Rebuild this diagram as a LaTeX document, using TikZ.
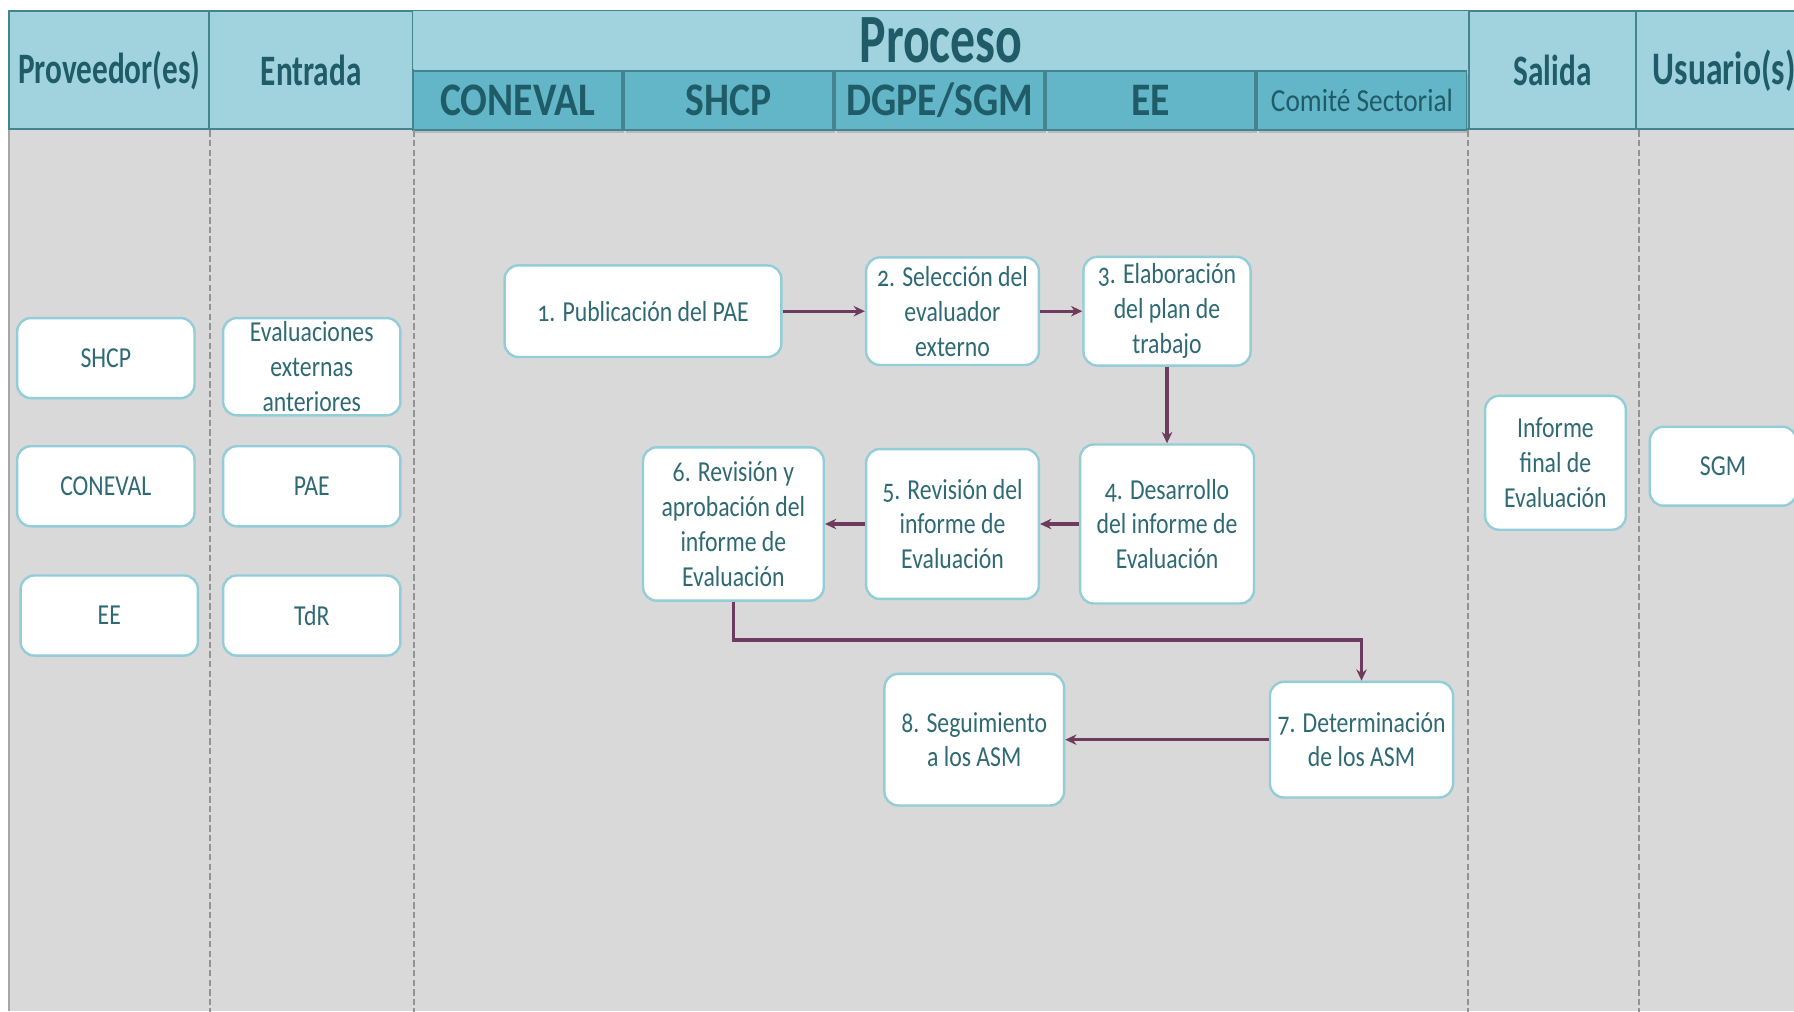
\documentclass[tikz,border=0pt]{standalone}
\usepackage{fontspec}
\setmainfont{Carlito}
\newfontfamily\boxfont[FakeStretch=0.82,Numbers=OldStyle]{Carlito}
\newfontfamily\headfont[FakeStretch=0.72]{Carlito}
\newfontfamily\subfont[FakeStretch=0.85]{Carlito}
\usepackage{xcolor}
\usetikzlibrary{arrows.meta, positioning, shadows}

\definecolor{hdrlight}{HTML}{A0D3DE}
\definecolor{hdrdark}{HTML}{62B6C8}
\definecolor{hdrline}{HTML}{44848F}
\definecolor{hdrtext}{HTML}{1F5C67}
\definecolor{lanegray}{HTML}{D9D9D9}
\definecolor{boxline}{HTML}{92CDD8}
\definecolor{boxtext}{HTML}{2F6A74}
\definecolor{flow}{HTML}{6E3B5E}

\begin{document}
\begin{tikzpicture}[
  hcell/.style={draw=hdrline, line width=1.2pt, fill=hdrlight, text=hdrtext,
                inner sep=0pt, font=\headfont\bfseries\fontsize{27}{30}\selectfont},
  subcell/.style={draw=hdrline, line width=1.2pt, fill=hdrdark, text=hdrtext,
                  minimum width=4.57cm, minimum height=1.3cm, inner sep=0pt,
                  drop shadow={shadow xshift=0.04cm, shadow yshift=-0.07cm, opacity=0.35},
                  font=\subfont\bfseries\fontsize{29}{32}\selectfont},
  actbox/.style={draw=boxline, line width=1.5pt, fill=white, rounded corners=0.3cm,
                 align=center, text=boxtext, inner sep=1pt,
                 font=\boxfont\fontsize{18}{21.7}\selectfont},
  arr/.style={-{Stealth[length=7pt,width=6.5pt]}, line width=2.1pt, draw=flow},
  lane/.style={dash pattern=on 4pt off 2pt, line width=1.3pt, draw=gray!85}
]
\useasboundingbox (0,0) rectangle (39.2,22.1);
\clip (0,0) rectangle (39.2,22.1);
\fill[white] (0,0) rectangle (39.2,22.1);
\fill[lanegray] (0.2,0) rectangle (39.6,19.3);
\draw[gray!70, line width=1pt] (0.2,0) -- (0.2,19.3);

%% Header row
\node[hcell, minimum width=4.375cm, minimum height=2.575cm] (hprov) at (2.3875,20.5625) {Proveedor(es)};
\node[hcell, minimum width=4.45cm,  minimum height=2.575cm] (hent)  at (6.8,20.5625) {Entrada};
\node[hcell, minimum width=23.075cm, minimum height=2.575cm] (hprocbg) at (20.5625,20.5625) {};
\node[hcell, minimum width=23.075cm, minimum height=1.25cm, draw=none,
      font=\headfont\bfseries\fontsize{43}{46}\selectfont] (hproc) at (20.5625,21.225) {Proceso};
\node[hcell, minimum width=3.65cm, minimum height=2.575cm] (hsal) at (33.925,20.5625) {Salida};
\node[hcell, minimum width=3.85cm, minimum height=2.575cm,
      font=\headfont\bfseries\fontsize{29}{32}\selectfont] (husu) at (37.675,20.5625) {Usuario(s)};

%% Process sub-columns
\node[subcell, anchor=north west] (sconeval) at (hproc.south west) {CONEVAL};
\node[subcell, right=0pt of sconeval] (sshcp) {SHCP};
\node[subcell, right=0pt of sshcp] (sdgpe) {DGPE/SGM};
\node[subcell, right=0pt of sdgpe] (see) {EE};
\node[subcell, right=0pt of see, font=\subfont\fontsize{20}{24}\selectfont] (scomite) {Comité Sectorial};

%% Lane separators
\draw[lane] (hprov.south east) -- ++(0,-19.3);
\draw[lane] (hent.south east) -- ++(0,-19.3);
\draw[lane] (hsal.south west) -- ++(0,-19.3);
\draw[lane] (husu.south west) ++(0.075,0) -- ++(0,-19.3);

%% Proveedor(es) and Entrada
\node[actbox, minimum width=3.875cm, minimum height=1.75cm] (pshcp)    at (2.3125,14.275) {SHCP};
\node[actbox, minimum width=3.875cm, minimum height=1.75cm] (pconeval) at (2.3125,11.475) {CONEVAL};
\node[actbox, minimum width=3.875cm, minimum height=1.75cm] (pee)      at (2.3875,8.65)   {EE};
\node[actbox, minimum width=3.875cm, minimum height=2.125cm, inner sep=0pt] (eeval) at (6.8125,14.0875) {Evaluaciones\\externas\\anteriores};
\node[actbox, minimum width=3.875cm, minimum height=1.75cm] (epae)     at (6.8125,11.475) {PAE};
\node[actbox, minimum width=3.875cm, minimum height=1.75cm] (etdr)     at (6.8125,8.65)   {TdR};

%% Proceso
\node[actbox, minimum width=6.05cm,  minimum height=2.0cm]   (a1) at (14.05,15.3)   {1. Publicación del PAE};
\node[actbox, minimum width=3.775cm, minimum height=2.35cm]  (a2) at (20.8125,15.3) {2. Selección del\\evaluador\\externo};
\node[actbox, minimum width=3.65cm,  minimum height=2.375cm] (a3) at (25.5,15.3)    {3. Elaboración\\del plan de\\trabajo};
\node[actbox, minimum width=3.8cm,   minimum height=3.475cm] (a4) at (25.5,10.65)   {4. Desarrollo\\del informe de\\Evaluación};
\node[actbox, minimum width=3.775cm, minimum height=3.275cm] (a5) at (20.8125,10.65) {5. Revisión del\\informe de\\Evaluación};
\node[actbox, minimum width=3.95cm,  minimum height=3.35cm]  (a6) at (16.025,10.65) {6. Revisión y\\aprobación del\\informe de\\Evaluación};
\node[actbox, minimum width=4.0cm,   minimum height=2.525cm] (a7) at (29.75,5.9375) {7. Determinación\\de los ASM};
\node[actbox, minimum width=3.925cm, minimum height=2.875cm] (a8) at (21.2875,5.9375) {8. Seguimiento\\a los ASM};

%% Salida and Usuario(s)
\node[actbox, minimum width=3.075cm, minimum height=2.925cm] (sinf) at (33.9875,11.9875) {Informe\\final de\\Evaluación};
\node[actbox, minimum width=3.2cm,   minimum height=1.725cm] (usgm) at (37.65,11.9125)  {SGM};

%% Flow
\draw[arr] (a1) -- (a2);
\draw[arr] (a2) -- (a3);
\draw[arr] (a3) -- (a4);
\draw[arr] (a4) -- (a5);
\draw[arr] (a5) -- (a6);
\draw[arr] (a6.south) -- ++(0,-0.83) -| (a7.north);
\draw[arr] (a7) -- (a8);
\end{tikzpicture}
\end{document}
